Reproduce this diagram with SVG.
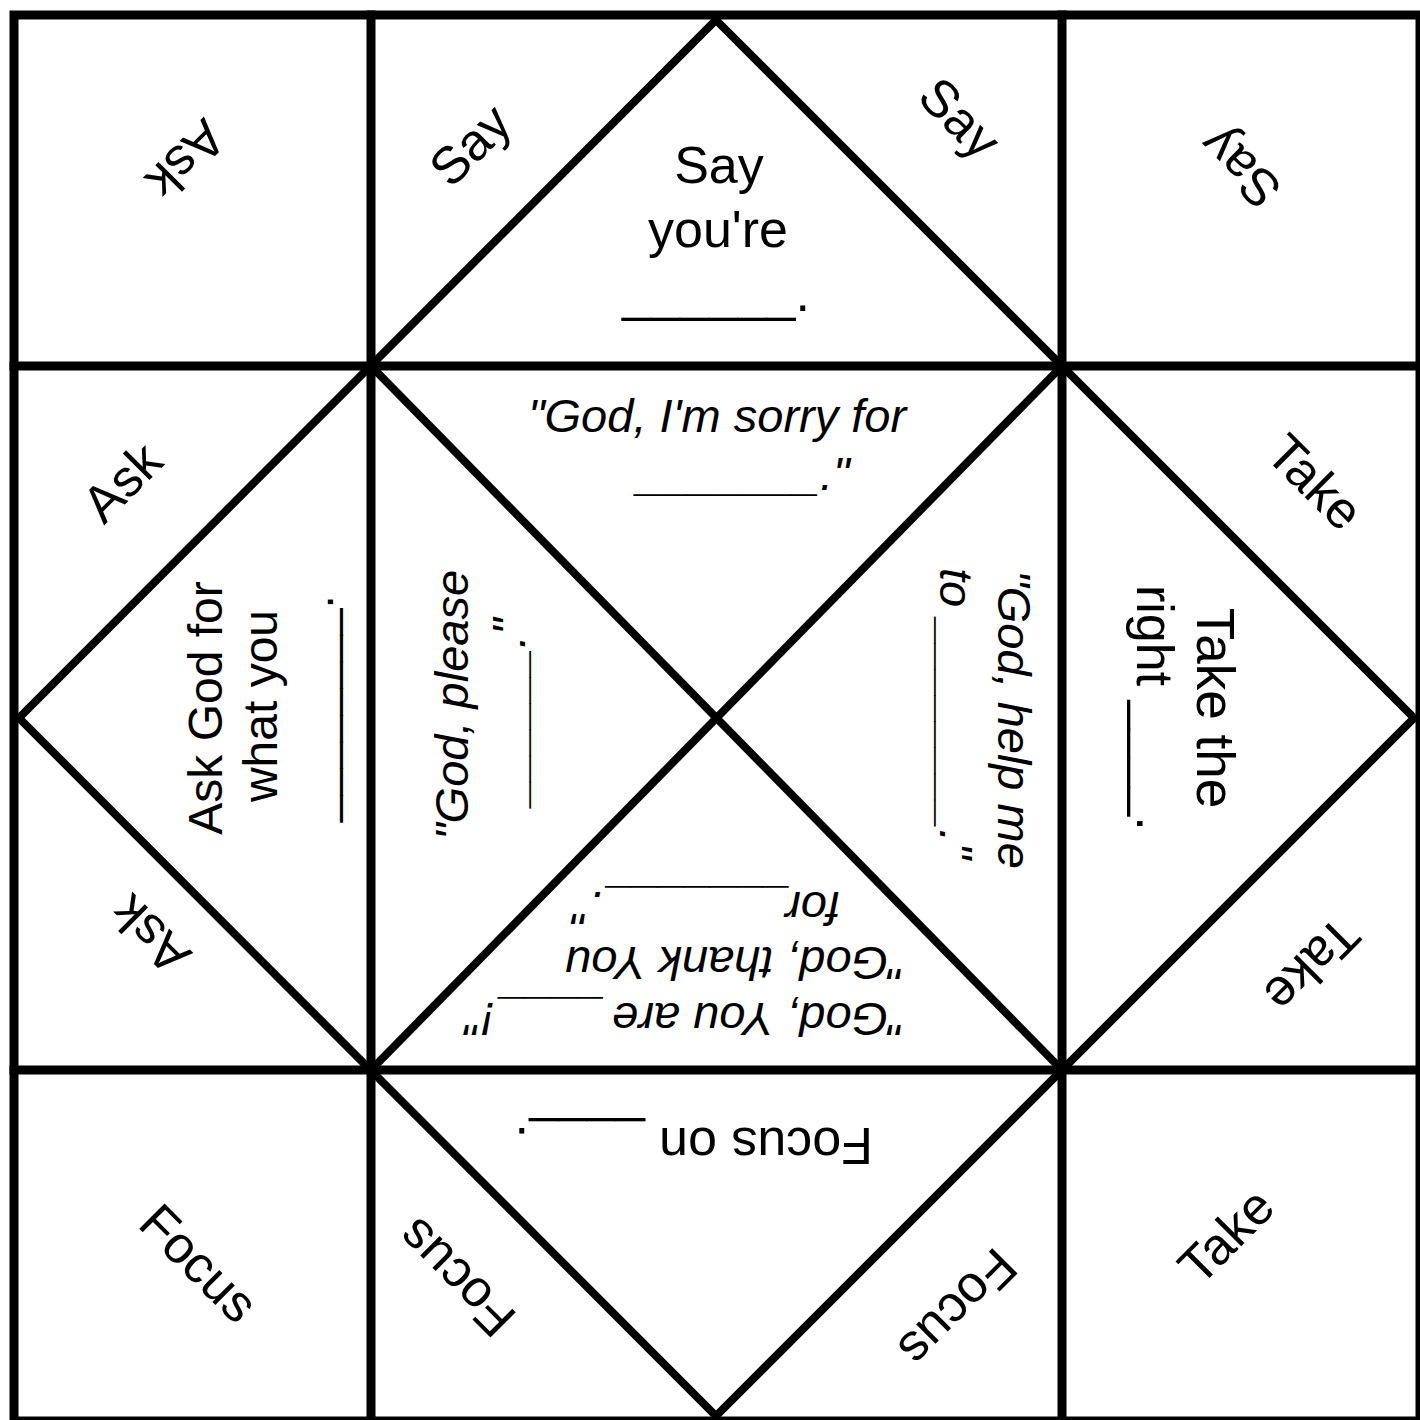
<svg xmlns="http://www.w3.org/2000/svg" width="1420" height="1420" viewBox="0 0 1420 1420">
<style>
.ln{stroke:#000;stroke-width:9;fill:none;stroke-linecap:square}
.dg{stroke:#000;stroke-width:8;fill:none}
text{font-family:"Liberation Sans",Arial,sans-serif;fill:#000}
.r{font-size:52px}
.s{font-size:48px}
.i{font-size:47px;font-style:italic}
.c{text-anchor:middle}
</style>
<rect x="0" y="0" width="1420" height="1420" fill="#fff"/>
<g id="grid">
<rect class="ln" x="14" y="15" width="1406" height="1406"/>
<line class="ln" x1="371" y1="15" x2="371" y2="1420"/>
<line class="ln" x1="1062" y1="15" x2="1062" y2="1420"/>
<line class="ln" x1="14" y1="366" x2="1420" y2="366"/>
<line class="ln" x1="14" y1="1070" x2="1420" y2="1070"/>
</g>
<g id="folds">
<polygon class="dg" points="716,20 1414,718 716,1416 19,718"/>
<line class="dg" x1="371" y1="366" x2="1062" y2="1070"/>
<line class="dg" x1="1062" y1="366" x2="371" y2="1070"/>
</g>
<g id="outer-words">
<text class="r c" transform="translate(186,160) rotate(135)" y="18">Ask</text>
<text class="r c" transform="translate(1240,168) rotate(-135)" y="18">Say</text>
<text class="r c" transform="translate(199,1263) rotate(45)" y="18">Focus</text>
<text class="r c" transform="translate(1226,1236) rotate(-45)" y="18">Take</text>
<text class="r c" transform="translate(470,145) rotate(-45)" y="18">Say</text>
<text class="r c" transform="translate(960,118) rotate(45)" y="18">Say</text>
<text class="r c" transform="translate(122,482) rotate(-45)" y="18">Ask</text>
<text class="r c" transform="translate(150,935) rotate(-135)" y="18">Ask</text>
<text class="r c" transform="translate(1315,482) rotate(45)" y="18">Take</text>
<text class="r c" transform="translate(1312,965) rotate(135)" y="18">Take</text>
<text class="r c" transform="translate(456,1278) rotate(-135)" y="18">Focus</text>
<text class="r c" transform="translate(958,1308) rotate(135)" y="18">Focus</text>
</g>
<g id="flap-top">
<text class="r c" x="719" y="183">Say</text>
<text class="r c" x="718" y="247">you're</text>
<text class="r" x="622" y="311">______.</text>
</g>
<g id="inner-top">
<text class="i c" x="717" y="432">"God, I'm sorry for</text>
<text class="i" x="637" y="490">_______."</text>
</g>
<g id="flap-left" transform="translate(0,708) rotate(-90)">
<text class="s c" x="0" y="222">Ask God for</text>
<text class="s c" x="2" y="277">what you</text>
<text class="s" x="-114" y="333">________.</text>
</g>
<g id="inner-left" transform="translate(0,708) rotate(-90)">
<text class="i c" x="3" y="468">"God, please</text>
<text class="i" x="-97" y="525">______."</text>
</g>
<g id="inner-right" transform="translate(0,708) rotate(90)">
<text class="i" x="-138" y="-998">"God, help me</text>
<text class="i" x="-140" y="-940">to ________."</text>
</g>
<g id="flap-right" transform="translate(0,708) rotate(90)">
<text class="r c" x="0" y="-1197" style="font-size:53px">Take the</text>
<text class="r" x="-123" y="-1137">right ____.</text>
</g>
<g id="inner-bottom" transform="rotate(180)">
<text class="i" x="-905" y="-1003">"God, You are ____!"</text>
<text class="i" x="-905" y="-947">"God, thank You</text>
<text class="i" x="-840" y="-892">for <tspan dx="-13">_______."</tspan></text>
</g>
<g id="flap-bottom" transform="rotate(180)">
<text class="r" x="-873" y="-1128">Focus on ____.</text>
</g>
</svg>
